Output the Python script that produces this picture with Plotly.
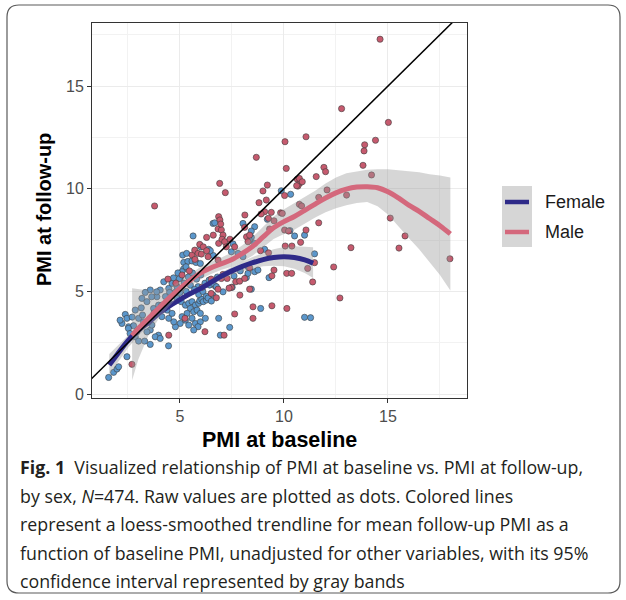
import plotly.graph_objects as go

# ---------------- data ----------------
female_x = [1.57, 1.81, 1.97, 2.05, 2.45, 2.37, 2.45, 2.21, 2.53, 2.77, 2.85, 3.14, 3.17, 3.57, 3.33, 4.22,
            2.85, 3.01, 3.30, 3.57, 3.97, 3.81, 4.05, 3.57, 3.41, 3.65, 3.49, 3.01, 3.25, 2.93, 4.45, 2.12, 2.52,
            3.41, 3.73, 3.97, 4.46, 4.70, 3.89, 4.05, 4.46, 4.62, 4.86, 5.01, 4.69, 3.88, 3.64,
            4.86, 5.06, 5.26, 5.42, 5.58, 5.74, 5.90, 5.50, 5.66, 5.82, 5.98, 5.34, 5.10, 5.26, 5.58, 5.74, 5.42,
            5.01, 4.78, 4.70, 5.98, 5.87, 5.66, 4.12, 4.38, 4.13, 4.46, 4.62,
            5.18, 5.38, 5.58, 5.77, 5.98, 5.17, 5.29, 5.13, 5.32, 4.97, 5.10,
            5.95, 6.05, 6.12, 6.27, 6.26, 6.59, 6.35, 5.87, 6.20, 6.70, 7.07, 7.51, 8.19, 8.27, 8.59, 8.75, 8.43,
            9.28, 8.88, 10.99, 11.28, 6.22, 6.86, 7.39, 6.94, 6.60, 7.47, 7.79, 8.03, 7.55, 8.43, 8.59, 9.07,
            8.33, 6.38, 6.46, 6.00, 5.63, 6.59, 6.67, 8.03, 8.59, 8.43, 9.20, 9.87, 10.32, 10.29, 10.99, 10.51,
            11.47, 6.40, 6.80, 7.60, 7.90,
            6.43, 6.59, 6.75, 6.51, 8.27, 4.90, 5.40, 5.60, 5.80, 6.00, 5.20, 5.50, 5.70, 5.30, 5.00, 4.75,
            5.90, 6.10, 4.50, 4.30, 3.75, 3.20, 2.70, 2.60]
female_y = [0.81, 1.06, 1.22, 1.33, 1.82, 3.88, 3.69, 3.44, 3.28, 3.33, 4.09, 4.20, 4.66, 5.07, 4.95, 5.47,
            2.79, 2.58, 2.58, 2.42, 2.87, 2.79, 2.71, 3.12, 3.03, 3.36, 3.52, 3.69, 3.52, 3.03, 2.35, 3.60, 3.20,
            4.50, 4.17, 4.33, 4.58, 4.80, 4.74, 5.07, 5.15, 5.39, 5.23, 5.63, 5.66, 4.98, 4.74,
            4.66, 4.50, 4.33, 4.42, 4.50, 4.33, 4.42, 4.17, 4.01, 4.09, 3.93, 3.93, 3.77, 3.60, 3.69, 3.44, 3.36,
            3.44, 3.28, 3.52, 3.52, 3.28, 3.12, 4.33, 4.09, 3.77, 3.69, 3.93,
            6.41, 6.46, 6.48, 6.41, 6.36, 6.09, 6.20, 6.77, 6.85, 5.63, 5.96,
            4.55, 4.62, 4.50, 4.58, 4.77, 4.82, 4.68, 5.23, 5.40, 5.25, 4.98, 5.20, 5.67, 5.88, 5.96, 6.04, 5.11,
            5.67, 4.17, 3.74, 3.72, 3.69, 3.69, 3.25, 2.87, 6.75, 6.93, 6.85, 6.69, 7.31, 7.63, 7.34, 7.05,
            7.50, 7.05, 6.98, 7.17, 7.70, 8.31, 8.34, 8.31, 8.15, 7.94, 8.51, 9.90, 9.73, 7.96, 7.74, 7.70,
            6.83, 5.55, 5.70, 5.75, 6.00,
            5.31, 5.39, 5.23, 4.53, 6.20, 5.90, 5.70, 5.90, 5.60, 5.80, 5.40, 5.30, 5.10, 5.00, 4.95, 4.95,
            4.85, 5.00, 4.95, 4.75, 3.95, 3.85, 3.75, 2.95]

male_x = [2.69, 3.78, 4.42, 4.46, 5.45, 5.58, 5.24, 6.20, 7.12, 7.63, 7.88, 8.51, 8.51, 9.42, 10.14, 12.69,
          6.06, 6.50, 6.75, 6.99, 7.07, 7.27, 7.47, 7.36, 7.68, 7.87, 8.11, 8.35, 8.35, 9.42, 6.50,
          5.72, 5.71, 5.87, 5.95, 6.03, 6.12, 6.28, 6.28, 6.86, 6.83, 6.99, 7.07, 7.02, 7.15, 7.23, 7.63, 7.40,
          8.20, 8.35, 8.27, 8.87, 9.26, 6.60,
          6.86, 6.92, 6.96, 8.11, 8.12, 6.91, 7.18, 8.67, 10.05, 11.06, 10.11, 9.20, 8.99, 10.64, 10.75, 10.67,
          10.03, 9.15, 8.80, 9.07, 8.90, 9.39, 9.84, 9.52, 9.25, 10.03, 10.22, 9.31, 10.06, 10.38, 11.06, 9.52,
          10.13, 10.37, 9.92,
          12.77, 15.02, 14.62, 14.40, 13.88, 13.85, 13.80, 11.92, 12.00, 11.55, 10.74, 10.88, 10.61, 14.21,
          12.07, 11.67, 13.01, 10.74, 10.85, 11.67, 15.11, 15.82, 15.53, 13.22, 10.80, 11.47, 11.14, 11.38,
          12.39, 17.98,
          6.83, 6.35, 6.83, 4.80, 5.10]
male_y = [1.45, 9.16, 5.60, 2.87, 6.00, 6.77, 3.69, 3.04, 2.87, 3.90, 4.82, 4.25, 3.69, 4.30, 4.17, 4.68,
          5.20, 4.90, 4.69, 5.63, 5.83, 5.63, 5.20, 5.16, 5.47, 5.50, 5.63, 6.15, 5.11, 5.76, 5.60,
          6.56, 7.01, 6.85, 7.29, 6.82, 7.17, 7.63, 6.98, 7.34, 8.04, 7.99, 7.74, 7.54, 7.42, 7.17, 7.17, 7.54,
          7.66, 7.74, 7.42, 6.98, 6.88, 7.74,
          8.64, 8.48, 8.28, 8.12, 8.72, 10.26, 9.81, 11.53, 12.29, 12.53, 10.99, 10.18, 9.89, 10.46, 10.26, 10.13,
          9.67, 9.45, 9.32, 8.88, 8.77, 8.85, 8.83, 8.44, 8.56, 7.99, 7.94, 8.04, 7.21, 7.21, 7.99, 6.04,
          5.88, 5.88, 8.80,
          13.90, 13.23, 17.28, 12.36, 12.14, 11.84, 11.14, 11.04, 10.83, 10.59, 10.50, 10.34, 10.15, 10.67,
          9.94, 9.58, 9.69, 9.24, 9.16, 8.34, 8.57, 7.70, 7.11, 7.13, 7.39, 6.40, 6.12, 5.46,
          6.19, 6.59,
          5.11, 6.69, 6.53, 5.40, 5.80]

# loess trend + 95% CI
f_fit_x = [1.6, 2.0, 2.5, 3.0, 3.5, 4.0, 4.5, 5.0, 5.5, 6.0, 6.5, 7.0, 7.5, 8.0, 8.5, 9.0, 9.5, 10.0, 10.5, 11.0, 11.4]
f_fit_y = [1.42, 1.95, 2.6, 3.1, 3.5, 3.95, 4.3, 4.6, 4.9, 5.15, 5.45, 5.75, 6.0, 6.22, 6.4, 6.55, 6.65, 6.69, 6.65, 6.53, 6.37]
f_lo = [0.95, 1.55, 2.25, 2.85, 3.3, 3.8, 4.17, 4.48, 4.78, 5.02, 5.3, 5.57, 5.8, 5.98, 6.12, 6.22, 6.25, 6.22, 6.1, 5.9, 5.65]
f_hi = [1.95, 2.35, 2.9, 3.35, 3.7, 4.1, 4.43, 4.72, 5.02, 5.28, 5.6, 5.93, 6.2, 6.46, 6.68, 6.88, 7.05, 7.16, 7.2, 7.18, 7.15]

m_fit_x = [2.7, 3.0, 3.5, 4.0, 4.5, 5.0, 5.5, 6.0, 6.5, 7.0, 7.5, 8.0, 8.5, 9.0, 9.5, 10.0, 10.5, 11.0, 11.5,
           12.0, 12.5, 13.0, 13.5, 14.0, 14.5, 15.0, 15.5, 16.0, 16.5, 17.0, 17.5, 18.0]
m_fit_y = [2.85, 3.2, 3.7, 4.2, 4.7, 5.15, 5.55, 5.9, 6.15, 6.35, 6.55, 6.85, 7.2, 7.65, 8.1, 8.4, 8.65, 8.95, 9.25,
           9.55, 9.8, 9.98, 10.08, 10.1, 10.05, 9.85, 9.55, 9.2, 8.9, 8.55, 8.2, 7.8]
m_lo = [0.68, 1.7, 2.9, 3.7, 4.3, 4.8, 5.25, 5.6, 5.85, 6.05, 6.2, 6.45, 6.75, 7.15, 7.55, 7.8, 8.0, 8.3, 8.6,
        8.85, 9.05, 9.2, 9.3, 9.35, 9.15, 8.75, 8.2, 7.6, 7.05, 6.45, 5.8, 5.05]
m_hi = [5.15, 5.1, 5.05, 5.1, 5.2, 5.5, 5.85, 6.2, 6.45, 6.65, 6.9, 7.25, 7.65, 8.15, 8.65, 9.0, 9.3, 9.6, 9.9,
        10.25, 10.55, 10.75, 10.85, 10.92, 10.95, 10.95, 10.9, 10.85, 10.8, 10.7, 10.65, 10.55]

ref_x = [0, 20]          # identity reference line y = x
x_ticks = [5, 10, 15]
y_ticks = [0, 5, 10, 15]
groups = ["Female", "Male"]

caption = [
    "<b>Fig. 1</b>  Visualized relationship of PMI at baseline vs. PMI at follow-up,",
    "by sex, <i>N</i>=474. Raw values are plotted as dots. Colored lines",
    "represent a loess-smoothed trendline for mean follow-up PMI as a",
    "function of baseline PMI, unadjusted for other variables, with its 95%",
    "confidence interval represented by gray bands",
]

# ---------------- style ----------------
W, H = 626, 600
PL, PR, PT, PB = 92, 467, 23, 398
F_PT, M_PT = "#5b97cc", "#c65a6e"
F_LN, M_LN = "#2e2a88", "#d4687c"
BAND = "rgba(153,153,153,0.4)"
AX_FONT = "Liberation Sans, Arial, sans-serif"
CAP_FONT = "Open Sans, sans-serif"


def px2paper(px, py):
    return (px - PL) / (PR - PL), (PB - py) / (PB - PT)


fig = go.Figure()

# points
fig.add_trace(go.Scatter(x=female_x, y=female_y, mode="markers", showlegend=False,
                         marker=dict(size=6.2, color=F_PT, line=dict(width=0.6, color="#3c3c3c"))))
fig.add_trace(go.Scatter(x=male_x, y=male_y, mode="markers", showlegend=False,
                         marker=dict(size=6.2, color=M_PT, line=dict(width=0.6, color="#3c3c3c"))))

# bands + lines
for fx, fy, lo, hi, col in [(f_fit_x, f_fit_y, f_lo, f_hi, F_LN), (m_fit_x, m_fit_y, m_lo, m_hi, M_LN)]:
    fig.add_trace(go.Scatter(x=fx + fx[::-1], y=hi + lo[::-1], fill="toself", fillcolor=BAND,
                             line=dict(width=0), mode="lines", showlegend=False, hoverinfo="skip"))
    fig.add_trace(go.Scatter(x=fx, y=fy, mode="lines", showlegend=False,
                             line=dict(color=col, width=5, shape="spline")))

# identity line
fig.add_trace(go.Scatter(x=ref_x, y=ref_x, mode="lines", showlegend=False,
                         line=dict(color="black", width=1.5)))

shapes = []
annotations = []

# outer rounded frame
x0, y0, x1, y1, r = 7, 5, 620, 593, 12


def P(px, py):
    a, b = px2paper(px, py)
    return f"{a:.5f},{b:.5f}"


path = (f"M {P(x0 + r, y0)} L {P(x1 - r, y0)} Q {P(x1, y0)} {P(x1, y0 + r)} "
        f"L {P(x1, y1 - r)} Q {P(x1, y1)} {P(x1 - r, y1)} "
        f"L {P(x0 + r, y1)} Q {P(x0, y1)} {P(x0, y1 - r)} "
        f"L {P(x0, y0 + r)} Q {P(x0, y0)} {P(x0 + r, y0)} Z")
shapes.append(dict(type="path", xref="paper", yref="paper", path=path,
                   line=dict(color="#5a5a5a", width=1.2), layer="below"))

# legend (manual, ggplot style)
lx0, ly0 = px2paper(502, 186)
lx1, ly1 = px2paper(532, 247)
shapes.append(dict(type="rect", xref="paper", yref="paper", x0=lx0, x1=lx1, y0=ly1, y1=ly0,
                   fillcolor="#d6d6d6", line=dict(width=0), layer="above"))
for name, col, py in [(groups[0], F_LN, 202), (groups[1], M_LN, 232)]:
    a0, b = px2paper(505, py)
    a1, _ = px2paper(529, py)
    shapes.append(dict(type="line", xref="paper", yref="paper", x0=a0, x1=a1, y0=b, y1=b,
                       line=dict(color=col, width=4.5), layer="above"))
    ta, tb = px2paper(543, py)
    annotations.append(dict(text=name, x=ta, y=tb, xref="paper", yref="paper", xanchor="left",
                            yanchor="middle", showarrow=False,
                            font=dict(family=AX_FONT, size=18, color="#1a1a1a")))

# axis titles
ax, ay = px2paper(44, 210)
annotations.append(dict(text="<b>PMI at follow-up</b>", x=ax, y=ay, xref="paper", yref="paper",
                        textangle=-90, showarrow=False, xanchor="center", yanchor="middle",
                        font=dict(family=AX_FONT, size=20, color="black")))
bx, by = px2paper(279.5, 440)
annotations.append(dict(text="<b>PMI at baseline</b>", x=bx, y=by, xref="paper", yref="paper",
                        showarrow=False, xanchor="center", yanchor="middle",
                        font=dict(family=AX_FONT, size=21.5, color="black")))

# caption
for i, line in enumerate(caption):
    cx, cy = px2paper(18, 467 + i * 28.6)
    annotations.append(dict(text=line, x=cx, y=cy, xref="paper", yref="paper", xanchor="left",
                            yanchor="middle", showarrow=False,
                            font=dict(family=CAP_FONT, size=17.8, color="#231f20")))

axis_common = dict(showgrid=True, gridcolor="#ebebeb", gridwidth=1.1, zeroline=False,
                   showline=True, linecolor="#333333", linewidth=1, mirror=True,
                   ticks="outside", ticklen=4, tickcolor="#333333", tickwidth=1,
                   tickfont=dict(family=AX_FONT, size=16, color="#4d4d4d"))

fig.update_layout(
    width=W, height=H,
    margin=dict(l=PL, r=W - PR, t=PT, b=H - PB, pad=0),
    paper_bgcolor="white", plot_bgcolor="white",
    xaxis=dict(range=[0.77, 18.8], tickvals=x_ticks, ticktext=[str(v) for v in x_ticks],
               minor=dict(tickvals=[2.5, 7.5, 12.5, 17.5], showgrid=True, gridcolor="#f2f2f2",
                          gridwidth=0.6, ticks=""),
               **axis_common),
    yaxis=dict(range=[-0.19, 18.07], tickvals=y_ticks, ticktext=[str(v) for v in y_ticks],
               minor=dict(tickvals=[2.5, 7.5, 12.5, 17.5], showgrid=True, gridcolor="#f2f2f2",
                          gridwidth=0.6, ticks=""),
               **axis_common),
    shapes=shapes,
    annotations=annotations,
    showlegend=False,
)

fig.write_html("out.html", config={"displayModeBar": False},
               post_script="document.body.style.margin='0';document.body.style.overflow='hidden';")
